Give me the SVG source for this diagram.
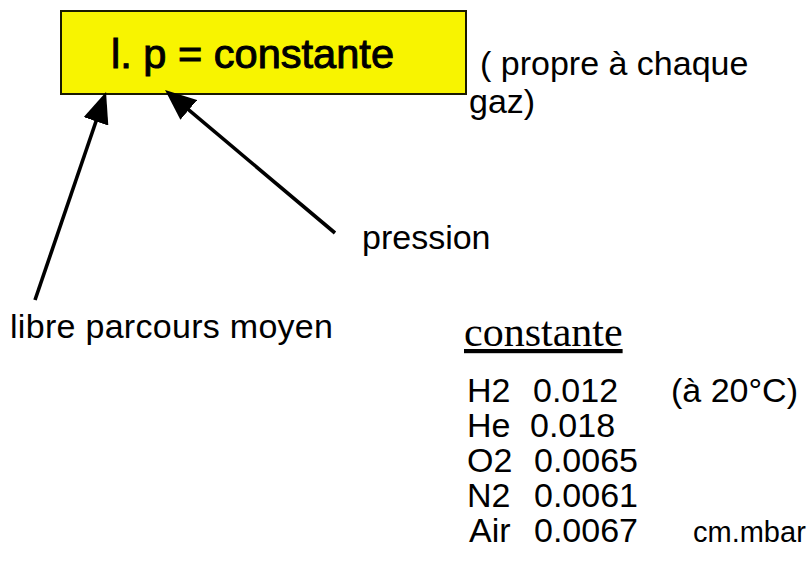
<svg xmlns="http://www.w3.org/2000/svg" width="809" height="577" viewBox="0 0 809 577">
<style>
.t{font-family:"Liberation Sans",Arial,sans-serif;font-size:34px;fill:#000}
.u{font-family:"Liberation Sans",Arial,sans-serif;font-size:29px;fill:#000}
.ttl{font-family:"Liberation Sans",Arial,sans-serif;font-size:41.5px;fill:#000;stroke:#000;stroke-width:1px}
.ser{font-family:"Liberation Serif","Times New Roman",serif;font-size:42px;fill:#000;text-decoration:underline}
.conn{stroke:#000;stroke-width:3.6;fill:none;marker-end:url(#ah)}
</style>
<defs>
<marker id="ah" markerUnits="userSpaceOnUse" viewBox="0 0 31 26" refX="21" refY="13" markerWidth="31" markerHeight="26" orient="auto">
<path d="M0,0 L31,13 L0,26 Z" fill="#000"/>
</marker>
</defs>
<rect width="809" height="577" fill="#fff"/>
<g id="node-formule">
<rect x="61" y="11" width="405" height="83" fill="#f8f400" stroke="#1a1a00" stroke-width="2"/>
<text class="ttl" x="111" y="68" textLength="283" lengthAdjust="spacingAndGlyphs">l. p = constante</text>
</g>
<g id="node-propre">
<text class="t" x="480" y="75">( propre à chaque</text>
<text class="t" x="469" y="113">gaz)</text>
</g>
<g id="node-pression">
<text class="t" x="362" y="249">pression</text>
</g>
<g id="node-libre">
<text class="t" x="10" y="338" textLength="323">libre parcours moyen</text>
</g>
<g id="node-table">
<text class="ser" x="464" y="346">constante</text>
<text class="t" y="402"><tspan x="467">H2</tspan><tspan x="533">0.012</tspan><tspan x="671">(à 20°C)</tspan></text>
<text class="t" y="437"><tspan x="467">He</tspan><tspan x="530">0.018</tspan></text>
<text class="t" y="472"><tspan x="467">O2</tspan><tspan x="534">0.0065</tspan></text>
<text class="t" y="507"><tspan x="467">N2</tspan><tspan x="534">0.0061</tspan></text>
<text class="t" y="542"><tspan x="469">Air</tspan><tspan x="534">0.0067</tspan></text>
<text class="u" x="693" y="542">cm.mbar</text>
</g>
<g id="connectors">
<line class="conn" x1="35" y1="300" x2="102.8" y2="101.5"/>
<line class="conn" x1="335" y1="233" x2="172.7" y2="96.4"/>
</g>
</svg>
